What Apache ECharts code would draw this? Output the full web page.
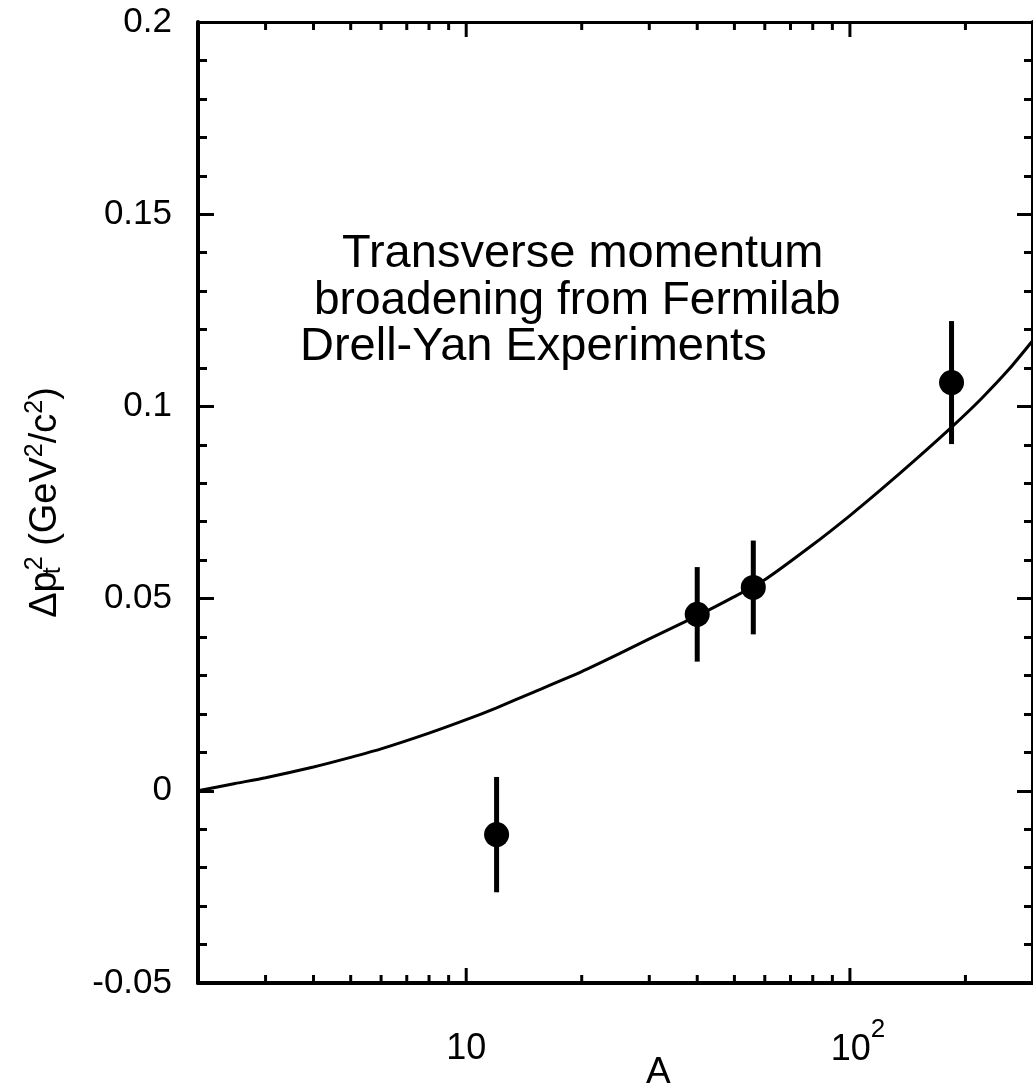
<!DOCTYPE html>
<html>
<head>
<meta charset="utf-8">
<script src="https://cdn.jsdelivr.net/npm/echarts@6/dist/echarts.min.js"></script>
<style>
html,body{margin:0;padding:0;background:#fff;}
#chart{width:1033px;height:1088px;}
</style>
</head>
<body>
<div id="chart"></div>
<script>
// ---- data ----
const curveA = [2, 2.5, 3, 4, 5, 6, 8, 10, 12, 15, 20, 25, 30, 40, 50, 60, 80, 100, 120, 150, 185, 220, 260, 300];
const curveV = [0.0000, 0.0019, 0.0034, 0.0062, 0.0087, 0.0109, 0.0150, 0.0185, 0.0216, 0.0257, 0.0310, 0.0356, 0.0395, 0.0455, 0.0505, 0.0549, 0.0640, 0.0716, 0.0782, 0.0866, 0.0948, 0.1020, 0.1097, 0.1172];
const pointA = [12, 40, 56, 184];
const pointV = [-0.0114, 0.0459, 0.0529, 0.1062];
const pointErr = [0.0150, 0.0123, 0.0122, 0.0160];
const xMajorTicks = [10, 100];
const xMinorTicks = [3, 4, 5, 6, 7, 8, 9, 20, 30, 40, 50, 60, 70, 80, 90, 200];
const noteLines = ['Transverse momentum', 'broadening from Fermilab', 'Drell-Yan Experiments'];
const xName = 'A';

const FONT = '"Liberation Sans", Arial, Helvetica, sans-serif';

const chart = echarts.init(document.getElementById('chart'), null, {renderer: 'canvas'});

const tickData = xMajorTicks.map(a => [a, 0, 1]).concat(xMinorTicks.map(a => [a, 0, 0]));
const errData = pointA.map((a, i) => [a, pointV[i] - pointErr[i], pointV[i] + pointErr[i]]);
const curveData = curveA.map((a, i) => [a, curveV[i]]);
const pointData = pointA.map((a, i) => [a, pointV[i]]);

const yAxisBase = {
  type: 'value', min: -0.05, max: 0.2, interval: 0.05,
  splitLine: {show: false},
  axisLine: {show: true, onZero: false, lineStyle: {color: '#000', width: 4}},
  axisTick: {show: true, inside: true, length: 16, lineStyle: {color: '#000', width: 3}},
  minorTick: {show: true, splitNumber: 5, length: 9, lineStyle: {color: '#000', width: 3}},
};

const option = {
  animation: false,
  backgroundColor: '#fff',
  grid: {left: 198, top: 22, width: 838, height: 961, containLabel: false},
  xAxis: [
    {
      type: 'log', logBase: 10, min: 2, max: 300, position: 'bottom',
      splitLine: {show: false},
      axisLine: {show: true, onZero: false, lineStyle: {color: '#000', width: 4}},
      axisTick: {show: false},
      axisLabel: {
        show: true, margin: 34, color: '#000', fontFamily: FONT, fontSize: 36,
        showMinLabel: false, showMaxLabel: false,
        formatter: function (v) {
          const r = Math.round(v);
          if (r === 10) return '{n|10}';
          if (r === 100) return '{pad|}{n|10}{sup|2}';
          return '';
        },
        rich: {
          n: {fontSize: 36, fontFamily: FONT, color: '#000', padding: [14, 0, 0, 0]},
          pad: {width: 16, fontSize: 22},
          sup: {fontSize: 26, fontFamily: FONT, color: '#000', padding: [0, 0, 26, 0]}
        }
      }
    },
    {
      type: 'log', logBase: 10, min: 2, max: 300, position: 'top',
      splitLine: {show: false},
      axisLine: {show: true, onZero: false, lineStyle: {color: '#000', width: 3}},
      axisTick: {show: false},
      axisLabel: {show: false}
    }
  ],
  yAxis: [
    Object.assign({}, yAxisBase, {
      position: 'left',
      name: 'Δp{st|t}{sup|2} (GeV{sup|2}/c{sup|2})',
      nameLocation: 'middle', nameRotate: 90, nameGap: 130,
      nameTextStyle: {
        color: '#000', fontFamily: FONT, fontSize: 38,
        rich: {
          st: {fontSize: 25, fontFamily: FONT, color: '#000', padding: [16, 0, 0, 0], width: 1},
          sup: {fontSize: 25, fontFamily: FONT, color: '#000', padding: [0, 0, 20, 0]}
        }
      },
      axisLabel: {show: true, margin: 26, color: '#000', fontFamily: FONT, fontSize: 35}
    }),
    Object.assign({}, yAxisBase, {
      position: 'right',
      axisLabel: {show: false}
    })
  ],
  graphic: [
    {type: 'text', left: 342, top: 231, style: {text: noteLines[0], font: '47px ' + FONT, fill: '#000'}},
    {type: 'text', left: 314, top: 278, style: {text: noteLines[1], font: '46px ' + FONT, fill: '#000'}},
    {type: 'text', left: 300, top: 324, style: {text: noteLines[2], font: '47px ' + FONT, fill: '#000'}},
    {type: 'text', left: 646, top: 1054, style: {text: xName, font: '37px ' + FONT, fill: '#000'}}
  ],
  series: [
    {
      type: 'custom', name: 'xticks', xAxisIndex: 0, yAxisIndex: 0, silent: true, clip: false, z: 5,
      data: tickData,
      renderItem: function (params, api) {
        const cs = params.coordSys;
        const x = api.coord([api.value(0), 0])[0];
        const len = api.value(2) ? 15 : 8;
        const bottom = cs.y + cs.height;
        const top = cs.y;
        const st = {stroke: '#000', lineWidth: 3};
        return {
          type: 'group',
          children: [
            {type: 'line', shape: {x1: x, y1: bottom, x2: x, y2: bottom - len}, style: st},
            {type: 'line', shape: {x1: x, y1: top, x2: x, y2: top + len}, style: st}
          ]
        };
      }
    },
    {
      type: 'line', name: 'fit', xAxisIndex: 0, yAxisIndex: 0,
      data: curveData, smooth: 0.2, showSymbol: false, silent: true,
      lineStyle: {color: '#000', width: 3}, z: 3
    },
    {
      type: 'custom', name: 'errors', xAxisIndex: 0, yAxisIndex: 0, silent: true, z: 4,
      data: errData,
      encode: {x: 0, y: [1, 2]},
      renderItem: function (params, api) {
        const lo = api.coord([api.value(0), api.value(1)]);
        const hi = api.coord([api.value(0), api.value(2)]);
        return {type: 'line', shape: {x1: lo[0], y1: lo[1], x2: hi[0], y2: hi[1]}, style: {stroke: '#000', lineWidth: 5}};
      }
    },
    {
      type: 'scatter', name: 'data', xAxisIndex: 0, yAxisIndex: 0,
      data: pointData, symbol: 'circle', symbolSize: 25, silent: true,
      itemStyle: {color: '#000', opacity: 1}, z: 6
    }
  ]
};
chart.setOption(option);
</script>
</body>
</html>
